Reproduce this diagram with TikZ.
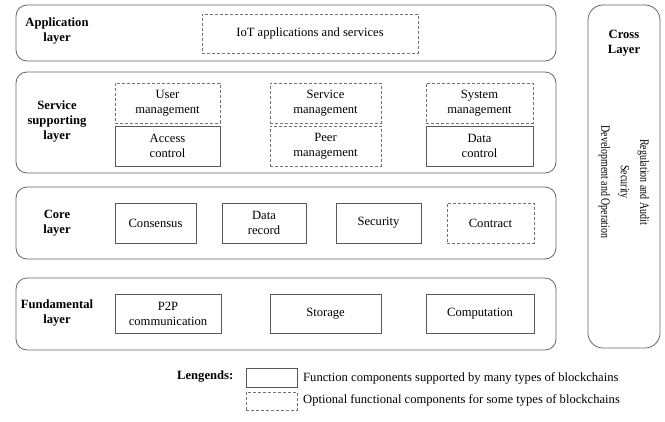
\documentclass[tikz,border=0pt]{standalone}
\usepackage{fontspec}
\setmainfont{Liberation Serif}
\newfontfamily\rotfont[FakeStretch=0.79]{Liberation Serif}
\begin{document}
\begin{tikzpicture}[x=1pt,y=-1pt,
  every node/.style={font=\fontsize{12.6}{15}\selectfont, align=center, inner sep=0pt},
  layer/.style={draw=black!60, line width=0.8pt, rounded corners=11pt},
  comp/.style={draw=black!65, line width=0.8pt},
  opt/.style={draw=black!55, line width=0.8pt, dash pattern=on 3pt off 2pt},
  lbl/.style={font=\fontsize{12.6}{15}\selectfont\bfseries}]
\useasboundingbox (0,0) rectangle (665,421);
% layers
\node[layer, minimum width=540, minimum height=56] (app) at (286,33) {};
\node[layer, minimum width=540, minimum height=101] (svc) at (286,122.5) {};
\node[layer, minimum width=540, minimum height=72] (core) at (286,223) {};
\node[layer, minimum width=540, minimum height=72] (fund) at (286,314) {};
\node[layer, rounded corners=15pt, minimum width=72, minimum height=343] (cross) at (624,176.5) {};
% layer labels
\node[lbl] (appl) at (57,31) {Application\\layer};
\node[lbl] (svcl) at (57,121) {Service\\supporting\\layer};
\node[lbl] (corel) at (57,223) {Core\\layer};
\node[lbl] (fundl) at (57,313) {Fundamental\\layer};
\node[lbl] (crossl) at (624,43) {Cross\\Layer};
\node[rotate=-90, font=\rotfont\fontsize{12.6}{19.5}\selectfont] (crosst) at (624,182) {Regulation and Audit\\Security\\Development and Operation};
% application
\node[opt, minimum width=216, minimum height=39] (iot) at (310,33.5) {IoT applications and services};
% service supporting
\node[opt, minimum width=105, minimum height=40] (user) at (167.5,103) {User\\management};
\node[comp, minimum width=105, minimum height=40] (access) at (167.5,146) {Access\\control};
\node[opt, minimum width=111, minimum height=40] (svcm) at (325.5,103) {Service\\management};
\node[opt, minimum width=111, minimum height=40] (peer) at (325.5,146) {Peer\\management};
\node[opt, minimum width=107, minimum height=40] (sysm) at (479.5,103) {System\\management};
\node[comp, minimum width=107, minimum height=40] (datac) at (479.5,146) {Data\\control};
% core
\node[comp, minimum width=81, minimum height=40] (cons) at (155.5,223) {Consensus};
\node[comp, minimum width=84, minimum height=40] (drec) at (264,223) {Data\\record};
\node[comp, minimum width=85, minimum height=40] (sec) at (378.5,223) {Security};
\node[opt, minimum width=87, minimum height=40] (contr) at (490.5,223) {Contract};
% fundamental
\node[comp, minimum width=106, minimum height=39] (p2p) at (168,313.5) {P2P\\communication};
\node[comp, minimum width=111, minimum height=39] (stor) at (325.5,313.5) {Storage};
\node[comp, minimum width=108, minimum height=39] (compu) at (480,313.5) {Computation};
% legend
\node[lbl, anchor=west] (leg) at (177,377) {Lengends:};
\node[comp, minimum width=51, minimum height=19] (lsolid) at (271.5,377.5) {};
\node[opt, minimum width=51, minimum height=18] (ldash) at (271.5,401) {};
\node[anchor=west] (lsolidt) at (303,378) {Function components supported by many types of blockchains};
\node[anchor=west] (ldasht) at (303,400) {Optional functional components for some types of blockchains};
\end{tikzpicture}
\end{document}
